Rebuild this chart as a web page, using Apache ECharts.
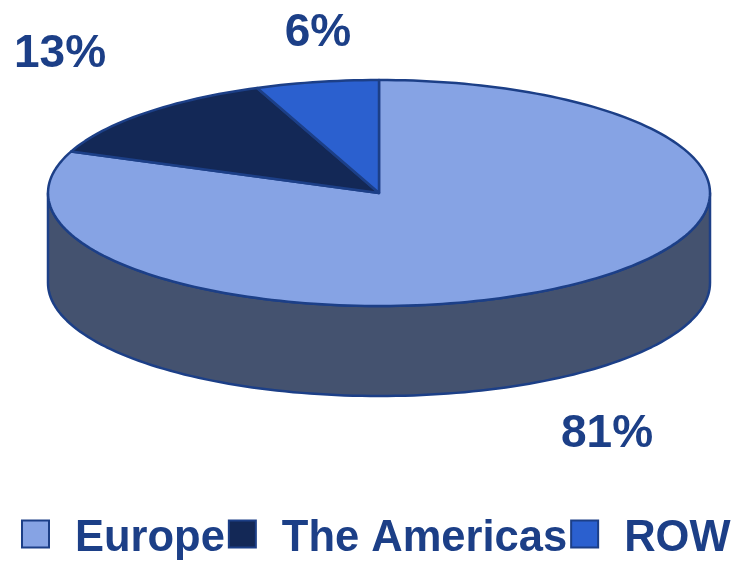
<!DOCTYPE html>
<html>
<head>
<meta charset="utf-8">
<title>Pie</title>
<script src="https://cdn.jsdelivr.net/npm/echarts@6/dist/echarts.min.js"></script>
<style>
  html, body { margin: 0; padding: 0; background: #fff; }
  #chart { width: 734px; height: 561px; }
</style>
</head>
<body>
<div id="chart"></div>
<script>
// data
var regions = ['Europe', 'The Americas', 'ROW'];
var shares = [81, 13, 6];

// look
var sliceColors = ['#86a3e4', '#132856', '#2b60cf'];
var wallColor = '#44526f';
var edgeColor = '#1c3f87';
var fontName = '"Liberation Sans", Arial, sans-serif';

// the disc, squashed into an ellipse
var cx = 379, cy = 193, rx = 331, ry = 113, depth = 90;
var labelSpots = [[607, 434], [60, 54], [318, 33]];

var total = shares.reduce(function (a, b) { return a + b; }, 0);

// clockwise from 12 o'clock, degrees
function rimPoint(deg, drop) {
  var t = deg * Math.PI / 180;
  return [cx + rx * Math.sin(t), cy - ry * Math.cos(t) + (drop || 0)];
}

function arcPoints(from, to, drop) {
  var pts = [];
  var steps = Math.max(2, Math.ceil(Math.abs(to - from) / 1.5));
  for (var i = 0; i <= steps; i++) {
    pts.push(rimPoint(from + (to - from) * i / steps, drop));
  }
  return pts;
}

function renderSlice(params, api) {
  var idx = params.seriesIndex;
  var before = shares.slice(0, idx).reduce(function (a, b) { return a + b; }, 0);
  var start = before / total * 360;
  var end = start + api.value(0) / total * 360;
  var children = [];

  // side wall, only the part that faces the viewer
  var wallFrom = Math.max(start, 90);
  var wallTo = Math.min(end, 270);
  if (wallTo > wallFrom) {
    children.push({
      type: 'polygon',
      shape: { points: arcPoints(wallFrom, wallTo, 0).concat(arcPoints(wallTo, wallFrom, depth)) },
      style: { fill: wallColor, stroke: edgeColor, lineWidth: 2.5, lineJoin: 'round' }
    });
  }

  children.push({
    type: 'polygon',
    shape: { points: [[cx, cy]].concat(arcPoints(start, end, 0)) },
    style: { fill: sliceColors[idx], stroke: edgeColor, lineWidth: 2.5, lineJoin: 'round' }
  });

  children.push({
    type: 'text',
    style: {
      x: labelSpots[idx][0],
      y: labelSpots[idx][1],
      text: api.value(0) + '%',
      fill: edgeColor,
      font: 'bold 46px ' + fontName,
      align: 'center',
      verticalAlign: 'middle'
    }
  });

  return { type: 'group', children: children };
}

var chart = echarts.init(document.getElementById('chart'), null, { renderer: 'canvas' });

chart.setOption({
  animation: false,
  legend: {
    data: regions,
    left: 16,
    top: 512,
    width: 800,
    padding: 5,
    icon: 'rect',
    itemWidth: 27,
    itemHeight: 27,
    itemGap: 3,
    selectedMode: false,
    formatter: '{t|{name}}',
    textStyle: {
      rich: {
        t: {
          color: edgeColor,
          fontFamily: fontName,
          fontWeight: 'bold',
          fontSize: 43.5,
          padding: [10, 0, 0, 21]
        }
      }
    }
  },
  series: regions.map(function (name, i) {
    return {
      type: 'custom',
      name: name,
      coordinateSystem: 'none',
      silent: true,
      itemStyle: { color: sliceColors[i], borderColor: edgeColor, borderWidth: 2.5 },
      renderItem: renderSlice,
      data: [[shares[i]]]
    };
  })
});
</script>
</body>
</html>
